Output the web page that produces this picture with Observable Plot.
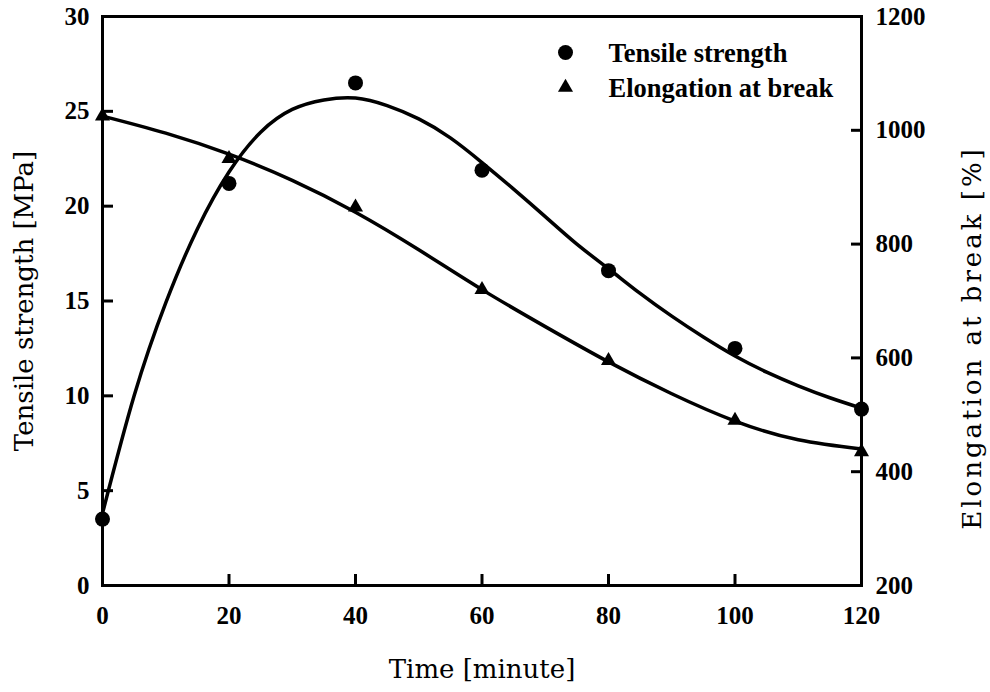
<!DOCTYPE html>
<html>
<head>
<meta charset="utf-8">
<script src="https://cdn.jsdelivr.net/npm/d3@7"></script>
<script src="https://cdn.jsdelivr.net/npm/@observablehq/plot@0.6"></script>
<style>
  html, body { margin: 0; padding: 0; background: #fff; }
  #chart { width: 990px; height: 692px; }
</style>
</head>
<body>
<div id="chart"></div>
<script>
// Measured samples
const time = [0, 20, 40, 60, 80, 100, 120];
const tensile = [3.5, 21.2, 26.5, 21.9, 16.6, 12.5, 9.3];          // MPa
const elongation = [1025, 950, 865, 720, 595, 490, 435];          // %

// Fitted trend curves
const fitTimeTensile = [0, 5, 10, 15, 20, 25, 30, 35, 40, 45, 50, 55, 60, 65, 70, 75, 80, 85, 90, 95, 100, 105, 110, 115, 120];
const tensileFit = [3.8, 10.0, 14.9, 18.8, 21.8, 23.9, 25.1, 25.6, 25.7, 25.3, 24.6, 23.6, 22.3, 20.9, 19.45, 18.0, 16.7, 15.4, 14.2, 13.1, 12.1, 11.25, 10.53, 9.9, 9.35];
const fitTimeElong = [0, 10, 20, 30, 40, 50, 60, 70, 80, 90, 100, 110, 120];
const elongationFit = [1025, 995, 958, 912, 856, 790, 720, 655, 593, 537, 489, 456, 440];

// Axis ticks
const xTicks = [0, 20, 40, 60, 80, 100, 120];
const leftTicks = [0, 5, 10, 15, 20, 25, 30];
const rightTicks = [200, 400, 600, 800, 1000, 1200];

const legendLabels = ["Tensile strength", "Elongation at break"];

// Elongation shares the left scale: 200–1200 % maps onto 0–30 MPa
const eToY = e => (e - 200) * 30 / 1000;
const yToE = y => String(Math.round(y * 1000 / 30 + 200));

const points = time.map((t, i) => ({t, ts: tensile[i], el: eToY(elongation[i])}));
const tsCurve = fitTimeTensile.map((t, i) => ({t, v: tensileFit[i]}));
const elCurve = fitTimeElong.map((t, i) => ({t, v: eToY(elongationFit[i])}));

const tickFont = {fontSize: 25, fontWeight: "bold"};
const titleFont = {fontSize: 26, fontFamily: "DejaVu Serif", fontWeight: "normal", textAnchor: "middle", lineAnchor: "middle"};

const chart = Plot.plot({
  width: 990,
  height: 692,
  marginLeft: 102,
  marginRight: 129,
  marginTop: 16,
  marginBottom: 107,
  style: {fontFamily: "Liberation Serif", background: "#fff", color: "#000", overflow: "visible"},
  x: {domain: [0, 120]},
  y: {domain: [0, 30]},
  marks: [
    // tick labels
    Plot.axisX({ticks: xTicks, tickSize: 0, tickPadding: 21, label: null, ...tickFont}),
    Plot.axisY({ticks: leftTicks, anchor: "left", tickSize: 0, tickPadding: 13, label: null, ...tickFont}),
    Plot.axisY({ticks: rightTicks.map(eToY), anchor: "right", tickSize: 0, tickPadding: 14, tickFormat: yToE, label: null, ...tickFont}),
    // inward tick marks
    Plot.axisX({ticks: xTicks.slice(1, -1), tickSize: 11, dy: -11, strokeWidth: 3, tickFormat: () => "", label: null}),
    Plot.axisY({ticks: leftTicks.slice(1, -1), anchor: "left", tickSize: 11, dx: 11, strokeWidth: 3, tickFormat: () => "", label: null}),
    Plot.axisY({ticks: rightTicks.slice(1, -1).map(eToY), anchor: "right", tickSize: 11, dx: -11, strokeWidth: 3, tickFormat: () => "", label: null}),
    Plot.frame({stroke: "#000", strokeWidth: 3}),
    // trend curves
    Plot.line(tsCurve, {x: "t", y: "v", curve: "natural", stroke: "#000", strokeWidth: 3.5}),
    Plot.line(elCurve, {x: "t", y: "v", curve: "natural", stroke: "#000", strokeWidth: 3.5}),
    // measured points
    Plot.dot(points, {x: "t", y: "ts", r: 7.5, fill: "#000", symbol: "circle"}),
    Plot.dot(points, {x: "t", y: "el", r: 5.6, fill: "#000", symbol: "triangle"}),
    // legend
    Plot.dot([legendLabels[0]], {frameAnchor: "top-left", dx: 463, dy: 36, r: 7.5, fill: "#000", symbol: "circle"}),
    Plot.dot([legendLabels[1]], {frameAnchor: "top-left", dx: 463, dy: 71, r: 5.6, fill: "#000", symbol: "triangle"}),
    Plot.text([legendLabels[0]], {text: d => d, frameAnchor: "top-left", dx: 506, dy: 37, textAnchor: "start", lineAnchor: "middle", fontSize: 26.5, fontWeight: "bold"}),
    Plot.text([legendLabels[1]], {text: d => d, frameAnchor: "top-left", dx: 506, dy: 72, textAnchor: "start", lineAnchor: "middle", fontSize: 26.5, fontWeight: "bold"}),
    // axis titles
    Plot.text(["Time [minute]"], {text: d => d, frameAnchor: "bottom", dy: 84, ...titleFont}),
    Plot.text(["Tensile strength [MPa]"], {text: d => d, frameAnchor: "left", dx: -78, rotate: -90, ...titleFont}),
    Plot.text(["Elongation at break [%]"], {text: d => d, frameAnchor: "right", dx: 111, dy: 37, rotate: -90, ...titleFont, className: "right-title"})
  ]
});

// the right-hand title is set a little wider than the others
d3.select(chart).selectAll(".right-title text").attr("letter-spacing", "3px");

document.getElementById("chart").appendChild(chart);
</script>
</body>
</html>
